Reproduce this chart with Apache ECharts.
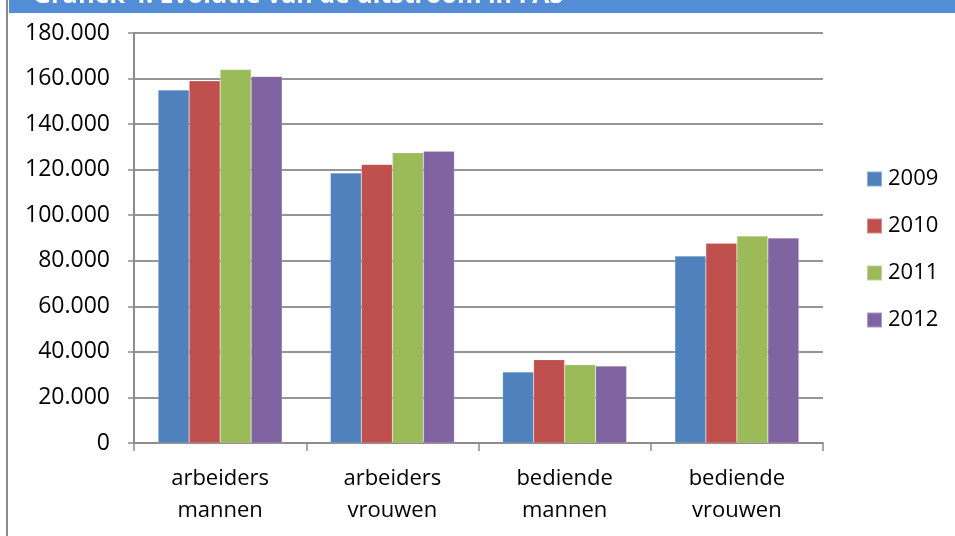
<!DOCTYPE html>
<html>
<head>
<meta charset="UTF-8"/>
<title>Grafiek 4</title>
<script type="text/javascript" src="https://cdn.jsdelivr.net/npm/echarts@6/dist/echarts.min.js"></script>
<style>
  html, body { margin: 0; padding: 0; background: #fff; }
  #main { width: 955px; height: 536px; }
</style>
</head>
<body>
<div id="main"></div>
<script type="text/javascript">
    var categories = ['arbeiders\nmannen', 'arbeiders\nvrouwen', 'bediende\nmannen', 'bediende\nvrouwen'];
    var years = ['2009', '2010', '2011', '2012'];
    var v2009 = [155000, 118500, 31200, 82100];
    var v2010 = [159000, 122300, 36600, 87700];
    var v2011 = [164000, 127400, 34400, 90900];
    var v2012 = [160900, 128100, 33800, 90000];
    var colors = ['#4F81BD', '#C0504D', '#9BBB59', '#8064A2'];

    var myChart = echarts.init(document.getElementById('main'));
    var font = 'Open Sans';

    // 20.000 style labels
    function fmt(v) {
        return v === 0 ? '0' : (v / 1000) + '.000';
    }

    var values = [v2009, v2010, v2011, v2012];
    var series = years.map(function (y, i) {
        return {
            name: y,
            type: 'bar',
            data: values[i],
            barGap: '0%',
            barCategoryGap: '28%',
            itemStyle: { color: colors[i], borderColor: 'rgba(255,255,255,0.35)', borderWidth: 0.5 }
        };
    });

    option = {
        animation: false,
        color: colors,
        textStyle: { fontFamily: font },
        graphic: [
            { type: 'rect', z: 1, shape: { x: 6, y: 0, width: 2, height: 536 }, style: { fill: '#8a8a8a' } },
            { type: 'rect', z: 1, shape: { x: 9, y: 0, width: 946, height: 13 }, style: { fill: '#538DD5' } },
            {
                type: 'text', z: 2, x: 33, y: 8,
                style: {
                    text: 'Grafiek 4: Evolutie van de uitstroom in FAS',
                    fill: '#fff', fontSize: 25, fontWeight: 'bold', fontFamily: font,
                    verticalAlign: 'bottom'
                }
            }
        ],
        legend: {
            orient: 'vertical',
            left: 866,
            top: 168,
            padding: 0,
            icon: 'rect',
            itemWidth: 15,
            itemHeight: 15,
            itemGap: 25,
            textStyle: { fontSize: 22, color: '#000', fontFamily: font, padding: [0, 0, 0, 1] },
            data: years
        },
        grid: { left: 134, right: 132, top: 33, bottom: 93 },
        xAxis: {
            type: 'category',
            data: categories,
            axisLine: { lineStyle: { color: '#8c8c8c', width: 2 } },
            axisTick: { show: true, length: 8, lineStyle: { color: '#8c8c8c', width: 1.5 } },
            axisLabel: { color: '#000', fontSize: 22, lineHeight: 32, margin: 20, fontFamily: font }
        },
        yAxis: {
            type: 'value',
            min: 0,
            max: 180000,
            interval: 20000,
            axisLine: { show: true, lineStyle: { color: '#8c8c8c', width: 2 } },
            axisTick: { show: true, length: 6, lineStyle: { color: '#8c8c8c', width: 1.5 } },
            splitLine: { lineStyle: { color: '#959595', width: 2 } },
            axisLabel: { color: '#000', fontSize: 23, margin: 24, formatter: fmt, fontFamily: font }
        },
        series: series
    };
    myChart.setOption(option);
</script>
</body>
</html>
